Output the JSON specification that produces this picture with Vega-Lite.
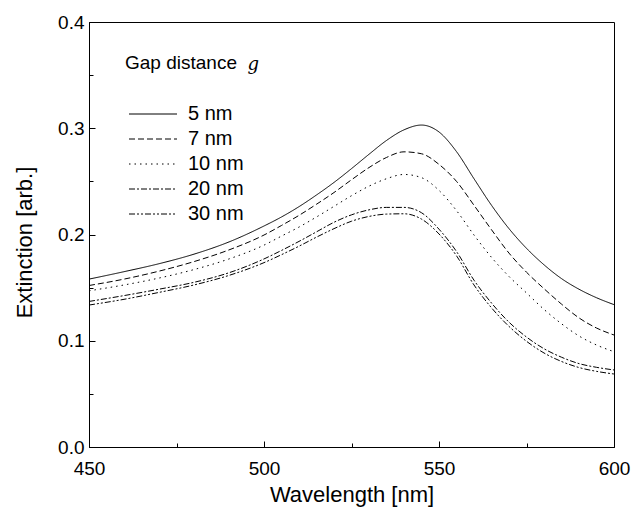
{
  "$schema": "https://vega.github.io/schema/vega-lite/v6.json",
  "width": 525,
  "height": 425,
  "autosize": {"type": "none"},
  "padding": {"left": 89, "top": 22, "right": 19, "bottom": 64},
  "background": "white",
  "config": {
    "view": {"stroke": "black", "strokeWidth": 1},
    "font": "Liberation Sans"
  },
  "datasets": {
    "spectra": [
      {"w":450,"e":0.158,"g":"5 nm"},{"w":460,"e":0.165,"g":"5 nm"},{"w":470,"e":0.1725,"g":"5 nm"},{"w":480,"e":0.1815,"g":"5 nm"},{"w":490,"e":0.193,"g":"5 nm"},{"w":500,"e":0.208,"g":"5 nm"},{"w":505,"e":0.2165,"g":"5 nm"},{"w":510,"e":0.2262,"g":"5 nm"},{"w":515,"e":0.2372,"g":"5 nm"},{"w":520,"e":0.249,"g":"5 nm"},{"w":525,"e":0.262,"g":"5 nm"},{"w":530,"e":0.2755,"g":"5 nm"},{"w":535,"e":0.2885,"g":"5 nm"},{"w":540,"e":0.2985,"g":"5 nm"},{"w":545,"e":0.303,"g":"5 nm"},{"w":550,"e":0.2965,"g":"5 nm"},{"w":555,"e":0.278,"g":"5 nm"},{"w":560,"e":0.2525,"g":"5 nm"},{"w":565,"e":0.2275,"g":"5 nm"},{"w":570,"e":0.2055,"g":"5 nm"},{"w":575,"e":0.187,"g":"5 nm"},{"w":580,"e":0.1715,"g":"5 nm"},{"w":585,"e":0.1585,"g":"5 nm"},{"w":590,"e":0.1485,"g":"5 nm"},{"w":595,"e":0.1405,"g":"5 nm"},{"w":600,"e":0.134,"g":"5 nm"},
      {"w":450,"e":0.152,"g":"7 nm"},{"w":460,"e":0.158,"g":"7 nm"},{"w":470,"e":0.1655,"g":"7 nm"},{"w":480,"e":0.1745,"g":"7 nm"},{"w":490,"e":0.1855,"g":"7 nm"},{"w":500,"e":0.1995,"g":"7 nm"},{"w":505,"e":0.2085,"g":"7 nm"},{"w":510,"e":0.218,"g":"7 nm"},{"w":515,"e":0.2285,"g":"7 nm"},{"w":520,"e":0.2395,"g":"7 nm"},{"w":525,"e":0.2515,"g":"7 nm"},{"w":530,"e":0.263,"g":"7 nm"},{"w":535,"e":0.2725,"g":"7 nm"},{"w":540,"e":0.2778,"g":"7 nm"},{"w":545,"e":0.276,"g":"7 nm"},{"w":550,"e":0.266,"g":"7 nm"},{"w":555,"e":0.250,"g":"7 nm"},{"w":560,"e":0.2275,"g":"7 nm"},{"w":565,"e":0.2045,"g":"7 nm"},{"w":570,"e":0.1825,"g":"7 nm"},{"w":575,"e":0.1645,"g":"7 nm"},{"w":580,"e":0.149,"g":"7 nm"},{"w":585,"e":0.1345,"g":"7 nm"},{"w":590,"e":0.1215,"g":"7 nm"},{"w":595,"e":0.112,"g":"7 nm"},{"w":600,"e":0.1054,"g":"7 nm"},
      {"w":450,"e":0.147,"g":"10 nm"},{"w":460,"e":0.1525,"g":"10 nm"},{"w":470,"e":0.159,"g":"10 nm"},{"w":480,"e":0.167,"g":"10 nm"},{"w":490,"e":0.177,"g":"10 nm"},{"w":500,"e":0.190,"g":"10 nm"},{"w":505,"e":0.1985,"g":"10 nm"},{"w":510,"e":0.207,"g":"10 nm"},{"w":515,"e":0.2165,"g":"10 nm"},{"w":520,"e":0.2265,"g":"10 nm"},{"w":525,"e":0.2365,"g":"10 nm"},{"w":530,"e":0.2455,"g":"10 nm"},{"w":535,"e":0.2525,"g":"10 nm"},{"w":540,"e":0.2565,"g":"10 nm"},{"w":545,"e":0.2535,"g":"10 nm"},{"w":550,"e":0.2415,"g":"10 nm"},{"w":555,"e":0.2225,"g":"10 nm"},{"w":560,"e":0.1995,"g":"10 nm"},{"w":565,"e":0.1785,"g":"10 nm"},{"w":570,"e":0.1605,"g":"10 nm"},{"w":575,"e":0.145,"g":"10 nm"},{"w":580,"e":0.1295,"g":"10 nm"},{"w":585,"e":0.116,"g":"10 nm"},{"w":590,"e":0.1045,"g":"10 nm"},{"w":595,"e":0.096,"g":"10 nm"},{"w":600,"e":0.0897,"g":"10 nm"},
      {"w":450,"e":0.137,"g":"20 nm"},{"w":460,"e":0.1425,"g":"20 nm"},{"w":470,"e":0.1485,"g":"20 nm"},{"w":480,"e":0.155,"g":"20 nm"},{"w":490,"e":0.164,"g":"20 nm"},{"w":500,"e":0.177,"g":"20 nm"},{"w":505,"e":0.185,"g":"20 nm"},{"w":510,"e":0.1935,"g":"20 nm"},{"w":515,"e":0.2025,"g":"20 nm"},{"w":520,"e":0.2115,"g":"20 nm"},{"w":525,"e":0.2185,"g":"20 nm"},{"w":530,"e":0.2232,"g":"20 nm"},{"w":535,"e":0.2255,"g":"20 nm"},{"w":540,"e":0.2255,"g":"20 nm"},{"w":545,"e":0.2205,"g":"20 nm"},{"w":550,"e":0.205,"g":"20 nm"},{"w":555,"e":0.184,"g":"20 nm"},{"w":560,"e":0.157,"g":"20 nm"},{"w":565,"e":0.1355,"g":"20 nm"},{"w":570,"e":0.1175,"g":"20 nm"},{"w":575,"e":0.1035,"g":"20 nm"},{"w":580,"e":0.0925,"g":"20 nm"},{"w":585,"e":0.0845,"g":"20 nm"},{"w":590,"e":0.0785,"g":"20 nm"},{"w":595,"e":0.075,"g":"20 nm"},{"w":600,"e":0.0725,"g":"20 nm"},
      {"w":450,"e":0.1336,"g":"30 nm"},{"w":460,"e":0.139,"g":"30 nm"},{"w":470,"e":0.1455,"g":"30 nm"},{"w":480,"e":0.1525,"g":"30 nm"},{"w":490,"e":0.1615,"g":"30 nm"},{"w":500,"e":0.1735,"g":"30 nm"},{"w":505,"e":0.181,"g":"30 nm"},{"w":510,"e":0.189,"g":"30 nm"},{"w":515,"e":0.1975,"g":"30 nm"},{"w":520,"e":0.2055,"g":"30 nm"},{"w":525,"e":0.2125,"g":"30 nm"},{"w":530,"e":0.217,"g":"30 nm"},{"w":535,"e":0.2192,"g":"30 nm"},{"w":540,"e":0.2195,"g":"30 nm"},{"w":545,"e":0.2145,"g":"30 nm"},{"w":550,"e":0.2005,"g":"30 nm"},{"w":555,"e":0.180,"g":"30 nm"},{"w":560,"e":0.1525,"g":"30 nm"},{"w":565,"e":0.131,"g":"30 nm"},{"w":570,"e":0.1135,"g":"30 nm"},{"w":575,"e":0.0995,"g":"30 nm"},{"w":580,"e":0.0885,"g":"30 nm"},{"w":585,"e":0.0805,"g":"30 nm"},{"w":590,"e":0.0748,"g":"30 nm"},{"w":595,"e":0.0712,"g":"30 nm"},{"w":600,"e":0.0687,"g":"30 nm"}
    ],
    "note": [{"w": 495.3, "e": 0.355, "t": "g"}]
  },
  "layer": [
    {
      "data": {"name": "spectra"},
      "mark": {"type": "line", "interpolate": "monotone", "color": "black", "strokeWidth": 1, "clip": true},
      "encoding": {
        "x": {
          "field": "w", "type": "quantitative",
          "scale": {"domain": [450, 600], "nice": false, "zero": false},
          "axis": {
            "values": [450, 475, 500, 525, 550, 575, 600],
            "labelExpr": "datum.value % 50 === 0 ? datum.label : ''",
            "tickSize": {"condition": {"test": "datum.value % 50 === 0", "value": -6}, "value": -4},
            "tickColor": "black", "domainColor": "black", "grid": false,
            "labelFont": "Liberation Sans", "labelFontSize": 19, "labelColor": "black",
            "labelPadding": 18, "labelOverlap": false, "labelFlush": false,
            "title": "Wavelength [nm]", "titleFont": "Liberation Sans", "titleFontSize": 22,
            "titleFontWeight": "normal", "titleColor": "black",
            "titleX": 262.5, "titleY": 54, "titleBaseline": "alphabetic", "titleAnchor": "middle"
          }
        },
        "y": {
          "field": "e", "type": "quantitative",
          "scale": {"domain": [0, 0.4], "nice": false},
          "axis": {
            "values": [0, 0.05, 0.1, 0.15, 0.2, 0.25, 0.3, 0.35, 0.4],
            "format": ".1f",
            "labelExpr": "round(datum.value * 100) % 10 === 0 ? datum.label : ''",
            "tickSize": {"condition": {"test": "round(datum.value * 100) % 10 === 0", "value": -6}, "value": -4},
            "tickColor": "black", "domainColor": "black", "grid": false,
            "labelFont": "Liberation Sans", "labelFontSize": 19, "labelColor": "black",
            "labelPadding": 11, "labelOverlap": false, "labelFlush": false,
            "title": "Extinction [arb.]", "titleFont": "Liberation Sans", "titleFontSize": 22,
            "titleFontWeight": "normal", "titleColor": "black",
            "titleX": -58, "titleY": 220, "titleBaseline": "alphabetic", "titleAnchor": "middle", "titleAngle": -90
          }
        },
        "strokeDash": {
          "field": "g", "type": "nominal",
          "sort": ["5 nm", "7 nm", "10 nm", "20 nm", "30 nm"],
          "scale": {
            "domain": ["5 nm", "7 nm", "10 nm", "20 nm", "30 nm"],
            "range": [[1, 0], [6, 3], [1.5, 4], [6, 2, 2, 2], [6, 2, 2, 2, 2, 2]]
          },
          "legend": {
            "orient": "none", "legendX": 36, "legendY": 32, "padding": 0,
            "title": "Gap distance",
            "titleFont": "Liberation Sans", "titleFontSize": 19, "titleFontWeight": "normal", "titleColor": "black",
            "titlePadding": 31,
            "symbolType": "M-1,0H7", "symbolSize": 144, "symbolStrokeWidth": 1, "symbolStrokeColor": "black",
            "labelFont": "Liberation Sans", "labelFontSize": 20, "labelColor": "black",
            "labelOffset": 43, "rowPadding": 5
          }
        }
      }
    },
    {
      "data": {"name": "note"},
      "mark": {"type": "text", "font": "DejaVu Serif", "fontStyle": "italic", "fontSize": 18, "align": "left", "baseline": "alphabetic", "color": "black"},
      "encoding": {
        "x": {"field": "w", "type": "quantitative"},
        "y": {"field": "e", "type": "quantitative"},
        "text": {"field": "t"}
      }
    }
  ]
}
